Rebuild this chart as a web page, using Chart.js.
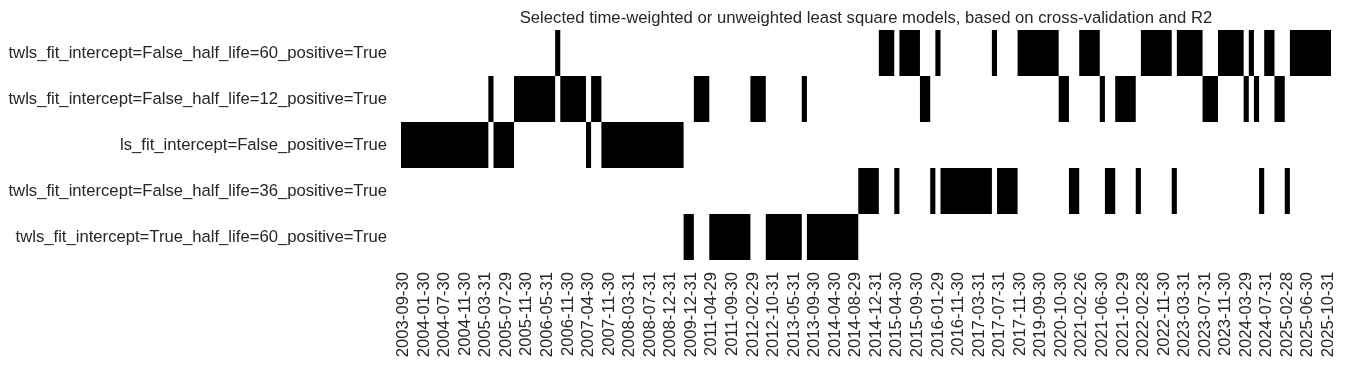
<html>
<head>
<meta charset="UTF-8">
<title>Selected models</title>
<script src="https://cdn.jsdelivr.net/npm/chart.js@4.4.0/dist/chart.umd.min.js"></script>
<style>
  body { margin: 0; background: #fff; }
  #wrap { width: 1345px; height: 369px; position: relative; }
</style>
</head>
<body>
<div id="wrap"><canvas id="myChart"></canvas></div>
<script>
var models = [
  'twls_fit_intercept=False_half_life=60_positive=True',
  'twls_fit_intercept=False_half_life=12_positive=True',
  'ls_fit_intercept=False_positive=True',
  'twls_fit_intercept=False_half_life=36_positive=True',
  'twls_fit_intercept=True_half_life=60_positive=True'
];

// every 4th column gets a date label
var tickEvery = 4;
var tickDates = [
  '2003-09-30', '2004-01-30', '2004-07-30', '2004-11-30', '2005-03-31', '2005-07-29',
  '2005-11-30', '2006-05-31', '2006-11-30', '2007-04-30', '2007-11-30', '2008-03-31',
  '2008-07-31', '2008-12-31', '2009-12-31', '2011-04-29', '2011-09-30', '2012-02-29',
  '2012-10-31', '2013-05-31', '2013-09-30', '2014-04-30', '2014-08-29', '2014-12-31',
  '2015-04-30', '2015-09-30', '2016-01-29', '2016-11-30', '2017-03-31', '2017-07-31',
  '2017-11-30', '2019-09-30', '2020-10-30', '2021-02-26', '2021-06-30', '2021-10-29',
  '2022-02-28', '2022-11-30', '2023-03-31', '2023-07-31', '2023-11-30', '2024-03-29',
  '2024-07-31', '2025-02-28', '2025-06-30', '2025-10-31'
];

// index into models of the model picked at each date (181 columns)
var selected = [
  2,2,2,2,2,2,2,2,2,2, 2,2,2,2,2,2,2,1,2,2,
  2,2,1,1,1,1,1,1,1,1, 0,1,1,1,1,1,2,1,1,2,
  2,2,2,2,2,2,2,2,2,2, 2,2,2,2,2,4,4,1,1,1,
  4,4,4,4,4,4,4,4,1,1, 1,4,4,4,4,4,4,4,1,4,
  4,4,4,4,4,4,4,4,4,3, 3,3,3,0,0,0,3,0,0,0,
  0,1,1,3,0,3,3,3,3,3, 3,3,3,3,3,0,3,3,3,3,
  0,0,0,0,0,0,0,0,1,1, 3,3,0,0,0,0,1,3,3,1,
  1,1,1,3,0,0,0,0,0,0, 3,0,0,0,0,0,1,1,1,0,
  0,0,0,0,1,0,1,3,0,0, 1,1,3,0,0,0,0,0,0,0,
  0
];

var titleText = 'Selected time-weighted or unweighted least square models, based on cross-validation and R2';

// consecutive columns with the same model -> one floating bar
var runs = [];
for (var i = 0; i < selected.length; i++) {
  var last = runs[runs.length - 1];
  if (last && last.m === selected[i] && last.x[1] === i) {
    last.x[1] = i + 1;
  } else {
    runs.push({ m: selected[i], y: models[selected[i]], x: [i, i + 1] });
  }
}

var fnt = { family: '"Liberation Sans", Arial, sans-serif', size: 16.67 };
var txtColor = '#262626';

var titlePlugin = {
  id: 'plotTitle',
  afterDraw: (chart) => {
    var a = chart.chartArea, ctx = chart.ctx;
    ctx.save();
    ctx.font = '16.67px "Liberation Sans", Arial, sans-serif';
    ctx.fillStyle = txtColor;
    ctx.textAlign = 'center';
    ctx.textBaseline = 'alphabetic';
    ctx.fillText(titleText, (a.left + a.right) / 2, 23);
    ctx.restore();
  }
};

var ctx = document.getElementById('myChart').getContext('2d');
var chart = new Chart(ctx, {
  type: 'bar',
  data: {
    labels: models,
    datasets: [{
      data: runs,
      backgroundColor: '#000000',
      borderWidth: 0,
      barPercentage: 1,
      categoryPercentage: 1,
      inflateAmount: 0
    }]
  },
  options: {
    indexAxis: 'y',
    responsive: true,
    maintainAspectRatio: false,
    animation: false,
    layout: { padding: { top: 30, right: 14, left: 0, bottom: 0 } },
    plugins: { legend: { display: false }, tooltip: { enabled: false }, title: { display: false } },
    scales: {
      x: {
        type: 'linear',
        min: 0,
        max: selected.length,
        grid: { display: false, drawTicks: false },
        border: { display: false },
        afterBuildTicks: (s) => {
          s.ticks = tickDates.map((d, k) => ({ value: k * tickEvery + 0.5 }));
        },
        afterFit: (s) => {
          s.height = 109;
          s.paddingLeft = 0;
          s.paddingRight = 0;
        },
        ticks: {
          autoSkip: false,
          minRotation: 90,
          maxRotation: 90,
          padding: 12,
          color: txtColor,
          font: fnt,
          callback: (v, k) => tickDates[k]
        }
      },
      y: {
        type: 'category',
        grid: { display: false, drawTicks: false },
        border: { display: false },
        afterFit: (s) => {
          s.width = 401;
          s.paddingTop = 0;
          s.paddingBottom = 0;
        },
        ticks: { padding: 14, color: txtColor, font: fnt }
      }
    }
  },
  plugins: [titlePlugin]
});
</script>
</body>
</html>
